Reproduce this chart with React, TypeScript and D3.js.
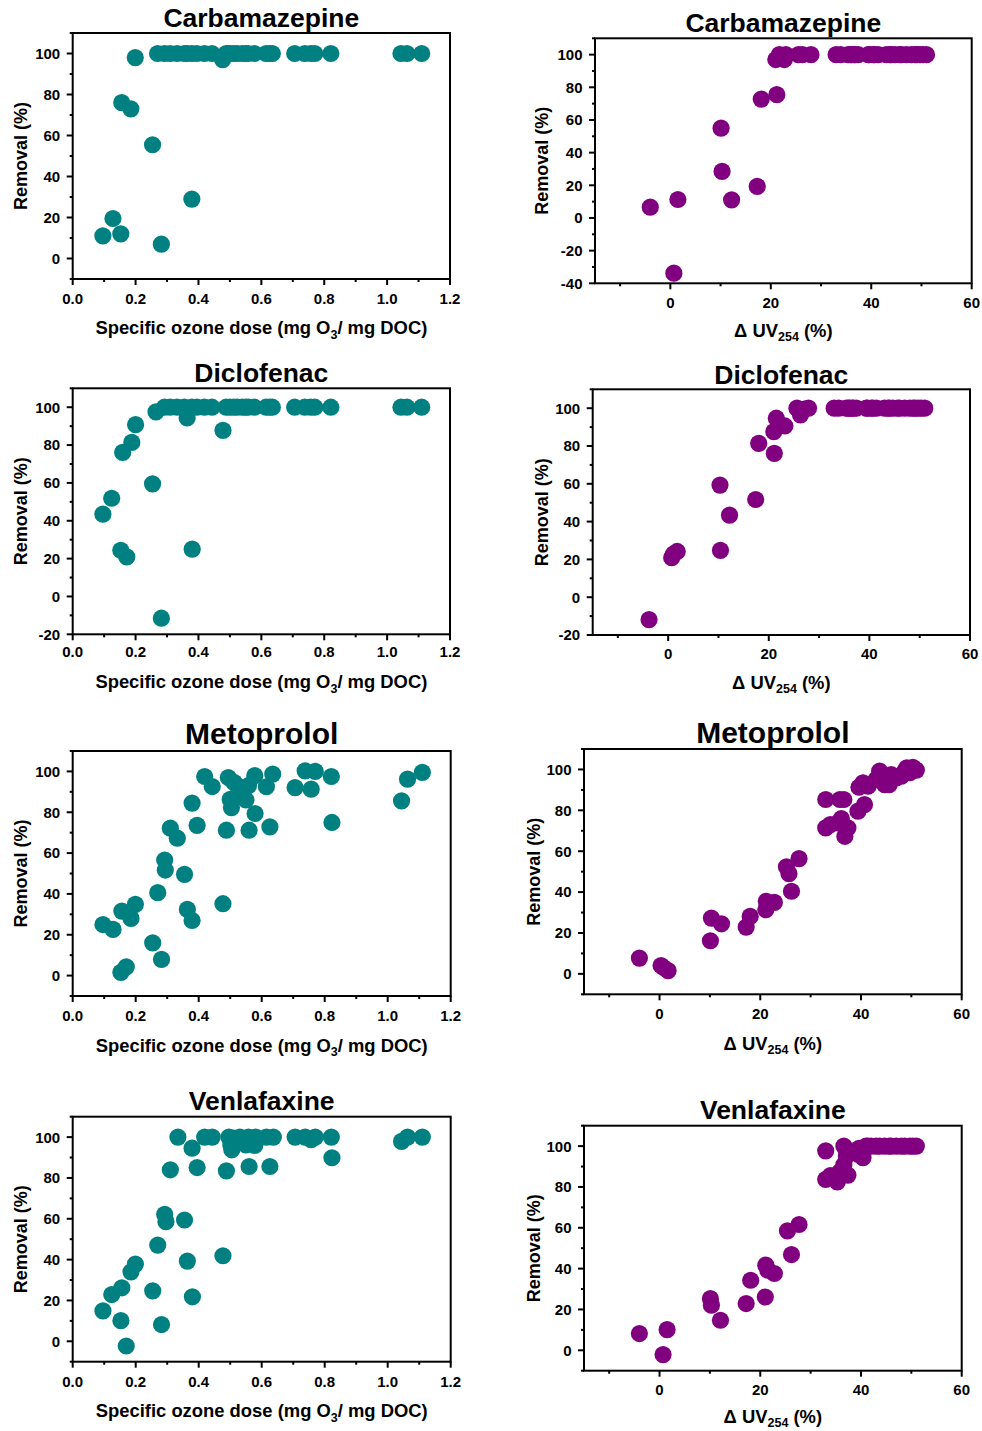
import React from "react";
import * as d3 from "d3";

// ---------- DATA ----------
const TEAL = "#008080";
const PURPLE = "#800080";

const doseTicks = [0, 0.2, 0.4, 0.6, 0.8, 1.0, 1.2];
const doseMinor = [0.1, 0.3, 0.5, 0.7, 0.9, 1.1];
const uvTicks = [0, 20, 40, 60];
const uvMinor = [-10, 10, 30, 50];

const titles = ["Carbamazepine", "Diclofenac", "Metoprolol", "Venlafaxine"];

// Carbamazepine vs specific ozone dose
const carbaDose: [number, number][] = [
  [0.096, 11], [0.128, 19.5], [0.153, 12], [0.156, 76], [0.185, 73], [0.199, 98],
  [0.254, 55.5], [0.282, 7], [0.379, 29],
  [0.27, 100], [0.292, 100], [0.31, 100], [0.332, 100], [0.355, 100], [0.364, 100],
  [0.379, 100], [0.395, 100], [0.419, 100], [0.443, 100], [0.477, 97], [0.488, 100],
  [0.494, 100], [0.5, 100], [0.512, 100], [0.523, 100], [0.539, 100], [0.55, 100],
  [0.558, 100], [0.578, 100], [0.615, 100], [0.626, 100], [0.635, 100], [0.706, 100],
  [0.738, 100], [0.757, 100], [0.77, 100], [0.821, 100], [1.044, 100], [1.063, 100], [1.11, 100],
];

// Carbamazepine vs ΔUV254
const carbaUV: [number, number][] = [
  [-4, 6.6], [1.5, 11.3], [0.7, -33.8], [10.1, 55], [10.3, 28.5], [12.2, 11.1],
  [17.3, 19.3], [18.1, 72.8], [21.2, 75.5], [21, 97], [21.7, 100], [22.7, 97],
  [23, 100], [25.5, 100], [26.3, 100], [28, 100],
  [33, 100], [33.9, 100], [35.4, 100], [35.8, 100], [36.1, 100], [36.6, 100], [36.8, 100],
  [37.4, 100], [39.4, 100], [39.6, 100], [40.4, 100], [40.7, 100], [41.4, 100], [43, 100],
  [43.7, 100], [44, 100], [44.7, 100], [45.6, 100], [46, 100], [47, 100], [48, 100],
  [48.7, 100], [49.1, 100], [49.7, 100], [50.3, 100], [51, 100],
];

// Diclofenac vs specific ozone dose
const dicloDose: [number, number][] = [
  [0.096, 43.5], [0.124, 51.9], [0.153, 24.4], [0.172, 20.9], [0.159, 76.1], [0.188, 81.4],
  [0.2, 90.8], [0.254, 59.5], [0.282, -11.5], [0.38, 25], [0.265, 97.5], [0.364, 94.3],
  [0.478, 87.8],
  [0.292, 100], [0.31, 100], [0.332, 100], [0.355, 100], [0.379, 100], [0.395, 100],
  [0.419, 100], [0.443, 100], [0.488, 100], [0.5, 100], [0.512, 100], [0.523, 100],
  [0.539, 100], [0.55, 100], [0.558, 100], [0.578, 100], [0.615, 100], [0.626, 100],
  [0.635, 100], [0.706, 100], [0.738, 100], [0.757, 100], [0.77, 100], [0.821, 100],
  [1.044, 100], [1.063, 100], [1.11, 100],
];

// Diclofenac vs ΔUV254
const dicloUV: [number, number][] = [
  [-3.8, -11.9], [0.7, 20.9], [1.1, 23], [1.8, 24.2], [10.3, 59.3], [10.4, 24.8],
  [12.2, 43.4], [17.4, 51.7], [18, 81.4], [21.1, 76.1], [21, 87.6], [21.5, 94.7],
  [22.3, 91.2], [23.2, 90.6], [25.6, 100], [26.3, 96.5], [27.1, 99.5], [27.9, 100],
  [33, 100], [33.9, 100], [35.4, 100], [35.8, 100], [36.1, 100], [36.6, 100], [36.8, 100],
  [37.4, 100], [39.4, 100], [39.6, 100], [40.4, 100], [40.7, 100], [41.4, 100], [43, 100],
  [43.7, 100], [44, 100], [44.7, 100], [45.6, 100], [46, 100], [47, 100], [48, 100],
  [48.7, 100], [49.1, 100], [49.7, 100], [50.3, 100], [51, 100],
];

// Metoprolol vs specific ozone dose
const metoDose: [number, number][] = [
  [0.096, 25], [0.128, 22.6], [0.156, 31.6], [0.185, 28], [0.199, 34.9], [0.153, 1.6],
  [0.17, 4.3], [0.254, 16], [0.27, 40.6], [0.282, 7.9], [0.292, 56.6], [0.294, 51.7],
  [0.31, 72.2], [0.332, 67.3], [0.355, 49.6], [0.364, 32.4], [0.379, 27], [0.379, 84.5],
  [0.395, 73.6], [0.419, 97.5], [0.443, 92.6], [0.477, 35.2], [0.488, 71.2], [0.494, 97],
  [0.5, 86.3], [0.504, 82.3], [0.512, 94.6], [0.523, 93], [0.539, 88.9], [0.55, 86],
  [0.558, 93], [0.56, 71.2], [0.578, 97.9], [0.579, 79.4], [0.615, 92.5], [0.626, 72.8],
  [0.635, 98.7], [0.706, 92.1], [0.738, 100.3], [0.757, 91.3], [0.77, 100], [0.821, 97.5],
  [0.823, 75], [1.044, 85.6], [1.063, 96.2], [1.11, 99.5],
];

// Metoprolol vs ΔUV254
const metoUV: [number, number][] = [
  [-4, 7.7], [0.3, 4.1], [0.8, 3.1], [1.7, 1.6], [10.1, 16.2], [10.3, 27.3], [12.3, 24.5],
  [17.2, 22.9], [18, 28.1], [21.1, 31.4], [21.2, 35.5], [22.8, 35], [25.2, 52.3],
  [25.7, 49], [26.2, 40.4], [27.7, 56.4], [33, 85.3], [35.8, 85.3], [36.6, 85.3],
  [33, 71.4], [33.9, 73], [35.4, 73.9], [36.1, 76], [36.8, 67.3], [37.4, 71.4],
  [39.6, 91.3], [40.4, 93.5], [39.4, 79.6], [40.7, 82.8], [41.4, 91.8], [43.7, 99.2],
  [44, 97.1], [43, 95.1], [44.7, 92.6], [45.6, 92.6], [46, 97.5], [47, 95.9], [48, 96.7],
  [48.7, 99.2], [49.1, 100.8], [49.7, 98.4], [50.3, 101], [51, 99.7],
];

// Venlafaxine vs specific ozone dose
const venlaDose: [number, number][] = [
  [0.096, 14.9], [0.124, 22.9], [0.156, 26.2], [0.153, 10.1], [0.17, -2.3], [0.185, 34],
  [0.199, 37.8], [0.254, 24.7], [0.27, 47.1], [0.282, 8.2], [0.292, 62.2], [0.296, 58.6],
  [0.355, 59.4], [0.364, 39.3], [0.38, 21.8], [0.477, 41.9], [0.31, 84], [0.334, 100],
  [0.379, 94.6], [0.395, 85.1], [0.419, 100], [0.443, 100], [0.488, 83.5], [0.496, 100],
  [0.502, 96.2], [0.505, 93.8], [0.512, 99.5], [0.531, 100], [0.55, 96.2], [0.558, 100],
  [0.56, 85.6], [0.578, 95.9], [0.581, 100], [0.615, 100], [0.626, 85.6], [0.637, 100],
  [0.706, 100], [0.738, 100], [0.757, 98.7], [0.77, 100], [0.821, 100], [0.823, 89.9],
  [1.044, 97.9], [1.063, 100], [1.11, 100],
];

// Venlafaxine vs ΔUV254
const venlaUV: [number, number][] = [
  [-4, 8.2], [0.7, -2.1], [1.5, 10.1], [10.1, 25.3], [10.3, 22.1], [12.1, 14.7],
  [17.2, 22.9], [18.1, 34.3], [21, 26.1], [21.1, 41.7], [21.5, 39.2], [22.8, 37.6],
  [25.4, 58.5], [26.2, 46.9], [27.7, 61.6], [33, 97.7], [33, 83.7], [33.9, 85.5],
  [35.3, 82.5], [35.8, 87.4], [36.6, 100], [36.6, 90.8], [37.4, 85.8], [37.1, 95.1],
  [39.4, 96], [40.4, 94.3], [39.6, 98.9], [41, 100], [41.4, 100], [42, 100], [43, 100],
  [43.7, 100], [44.7, 100], [45.6, 100], [46, 100], [47, 100], [48, 100], [48.7, 100],
  [49.7, 100], [50.3, 100], [51, 100],
];

// ---------- LAYOUT ----------
type PanelCfg = {
  title: string;
  titleSize: number;
  titleY: number;
  L: number; R: number; T: number; B: number;
  xDom: [number, number];
  yDom: [number, number];
  kind: "dose" | "uv";
  data: [number, number][];
  color: string;
  xTickY: number;
  xLabelY: number;
  yLabelX: number;
};

const panels: PanelCfg[] = [
  { title: titles[0], titleSize: 26.5, titleY: 27.3, L: 72.7, R: 450, T: 33, B: 279, xDom: [0, 1.2], yDom: [-10, 110], kind: "dose", data: carbaDose, color: TEAL, xTickY: 303.5, xLabelY: 334, yLabelX: 20 },
  { title: titles[0], titleSize: 26.5, titleY: 32.3, L: 595, R: 971.7, T: 38.3, B: 283.3, xDom: [-15, 60], yDom: [-40, 110], kind: "uv", data: carbaUV, color: PURPLE, xTickY: 308.3, xLabelY: 336.5, yLabelX: 541.7 },
  { title: titles[1], titleSize: 26.5, titleY: 382.3, L: 72.7, R: 450, T: 388.3, B: 634.3, xDom: [0, 1.2], yDom: [-20, 110], kind: "dose", data: dicloDose, color: TEAL, xTickY: 656.7, xLabelY: 688.3, yLabelX: 20 },
  { title: titles[1], titleSize: 26.5, titleY: 384, L: 592.7, R: 970, T: 389.3, B: 635, xDom: [-15, 60], yDom: [-20, 110], kind: "uv", data: dicloUV, color: PURPLE, xTickY: 659, xLabelY: 689, yLabelX: 541 },
  { title: titles[2], titleSize: 30, titleY: 744.3, L: 72.7, R: 450.7, T: 751, B: 996, xDom: [0, 1.2], yDom: [-10, 110], kind: "dose", data: metoDose, color: TEAL, xTickY: 1021, xLabelY: 1051.7, yLabelX: 20 },
  { title: titles[2], titleSize: 30, titleY: 743.3, L: 584, R: 961.7, T: 749, B: 994.3, xDom: [-15, 60], yDom: [-10, 110], kind: "uv", data: metoUV, color: PURPLE, xTickY: 1019, xLabelY: 1050, yLabelX: 533.3 },
  { title: titles[3], titleSize: 26.5, titleY: 1110, L: 72.7, R: 450.7, T: 1116.7, B: 1361.7, xDom: [0, 1.2], yDom: [-10, 110], kind: "dose", data: venlaDose, color: TEAL, xTickY: 1386.7, xLabelY: 1417.3, yLabelX: 20 },
  { title: titles[3], titleSize: 26.5, titleY: 1119.3, L: 584, R: 961.7, T: 1125.7, B: 1370.7, xDom: [-15, 60], yDom: [-10, 110], kind: "uv", data: venlaUV, color: PURPLE, xTickY: 1395, xLabelY: 1423, yLabelX: 533.3 },
];

const FONT = "'Liberation Sans', Arial, Helvetica, sans-serif";

function Panel({ p }: { p: PanelCfg }) {
  const x = d3.scaleLinear().domain(p.xDom).range([p.L, p.R]);
  const y = d3.scaleLinear().domain(p.yDom).range([p.B, p.T]);
  const xMajor = p.kind === "dose" ? doseTicks : uvTicks;
  const xMinor = p.kind === "dose" ? doseMinor : uvMinor;
  const yMajor = d3.range(Math.ceil(p.yDom[0] / 20) * 20, 101, 20);
  const yMinor = d3.range(p.yDom[0], p.yDom[1] + 0.1, 10).filter((v) => !yMajor.includes(v));
  const fmt = p.kind === "dose" ? d3.format(".1f") : d3.format("d");
  const cy = (p.T + p.B) / 2;
  const cx = (p.L + p.R) / 2;
  return (
    <g fontFamily={FONT} fontWeight="bold">
      <text x={cx} y={p.titleY} textAnchor="middle" fontSize={p.titleSize}>{p.title}</text>
      {p.data.map((d, i) => (
        <circle key={i} cx={x(d[0])} cy={y(d[1])} r={8.6} fill={p.color} />
      ))}
      <rect x={p.L} y={p.T} width={p.R - p.L} height={p.B - p.T} fill="none" stroke="#000" strokeWidth={2} />
      {xMajor.map((v) => (
        <g key={"xm" + v}>
          <line x1={x(v)} x2={x(v)} y1={p.B} y2={p.B + 6} stroke="#000" strokeWidth={2} />
          <text x={x(v)} y={p.xTickY} textAnchor="middle" fontSize={15}>{fmt(v)}</text>
        </g>
      ))}
      {xMinor.map((v) => (
        <line key={"xn" + v} x1={x(v)} x2={x(v)} y1={p.B} y2={p.B + 3} stroke="#000" strokeWidth={2} />
      ))}
      {yMajor.map((v) => (
        <g key={"ym" + v}>
          <line x1={p.L} x2={p.L - 6} y1={y(v)} y2={y(v)} stroke="#000" strokeWidth={2} />
          <text x={p.L - 12.5} y={y(v)} dy="0.36em" textAnchor="end" fontSize={15}>{v}</text>
        </g>
      ))}
      {yMinor.map((v) => (
        <line key={"yn" + v} x1={p.L} x2={p.L - 3} y1={y(v)} y2={y(v)} stroke="#000" strokeWidth={2} />
      ))}
      <text transform={`translate(${p.yLabelX + 6.5},${cy}) rotate(-90)`} textAnchor="middle" fontSize={18}>Removal (%)</text>
      {p.kind === "dose" ? (
        <text x={cx} y={p.xLabelY} textAnchor="middle" fontSize={18.4}>
          Specific ozone dose (mg O<tspan fontSize={12.5} dy={4.5}>3</tspan><tspan dy={-4.5}>/ mg DOC)</tspan>
        </text>
      ) : (
        <text x={cx} y={p.xLabelY} textAnchor="middle" fontSize={18.4}>
          Δ UV<tspan fontSize={12.5} dy={4}>254</tspan><tspan dy={-4}> (%)</tspan>
        </text>
      )}
    </g>
  );
}

export default function App() {
  return (
    <svg
      width={982}
      height={1431}
      style={{ position: "absolute", left: 0, top: 0, background: "#fff" }}
    >
      <rect width={982} height={1431} fill="#fff" />
      {panels.map((p, i) => (
        <Panel key={i} p={p} />
      ))}
    </svg>
  );
}
